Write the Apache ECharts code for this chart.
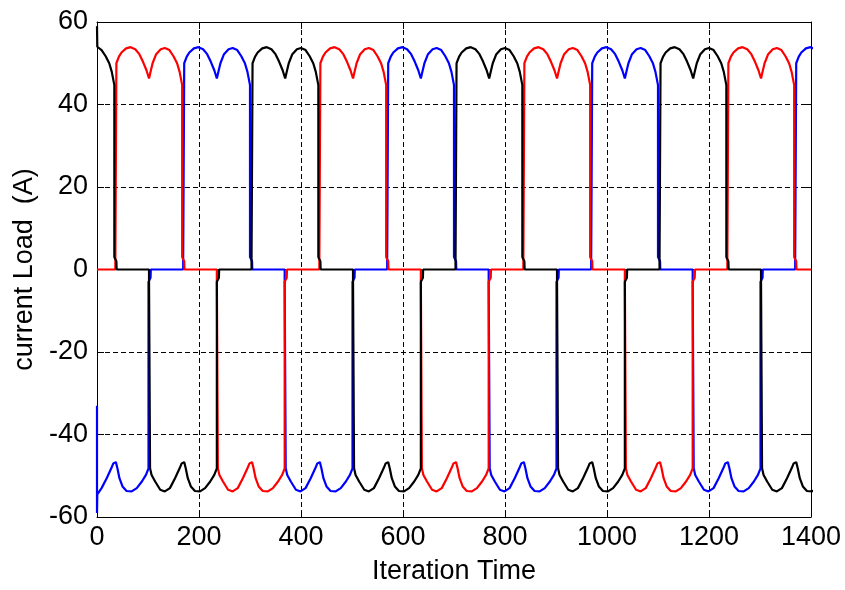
<!DOCTYPE html>
<html>
<head>
<meta charset="utf-8">
<script src="https://cdn.jsdelivr.net/npm/echarts@6/dist/echarts.min.js"></script>
<style>
html,body{margin:0;padding:0;background:#fff;}
#chart{width:845px;height:590px;}
</style>
</head>
<body>
<div id="chart"></div>
<script>
// ---- data ----
const xTicks = [0, 200, 400, 600, 800, 1000, 1200, 1400];
const yTicks = [-60, -40, -20, 0, 20, 40, 60];

// half-cycle waveform shapes (offset in iterations from switching edge, current in A)
const posOffsets = [-2, -2, 0, 0, 5, 10, 19, 28, 37, 45, 52, 59, 64, 66, 71, 78, 87, 95, 104, 112, 119, 124, 129, 129, 133, 133.5];
const posValues  = [0, 2.5, 2.5, 50, 51.6, 52.6, 53.6, 53.9, 53.4, 52.2, 50.4, 48.3, 46.3, 47.4, 50.0, 52.2, 53.4, 53.7, 53.2, 51.7, 50.0, 47.9, 44.7, 3, 2, 0];
const negOffsets = [-2, -2, 0, 0, 3, 10, 20, 29, 39, 49, 58, 62, 67, 70, 74, 80, 88, 98, 108, 118, 126, 131, 131, 135, 135.5];
const negValues  = [0, -2.5, -2.5, -48.2, -49.8, -51.4, -53.4, -53.8, -53.0, -50.6, -48.2, -47.0, -46.7, -48.2, -50.6, -52.6, -53.7, -53.8, -53.0, -51.4, -49.8, -48.2, -3, -2, 0];

// switching edges of each phase
const blackPosEdges = [-95, 305, 705, 1105];
const blackNegEdges = [104, 504, 904, 1304];
const redPosEdges   = [38, 438, 838, 1238];
const redNegEdges   = [237, 637, 1037];
const bluePosEdges  = [171, 571, 971, 1371];
const blueNegEdges  = [-30, 370, 770, 1170];

// initial transient points at iteration 0
const blackStart = [[0, 59], [0.6, 54]];
const redStart   = [[0, 0]];
const blueStart  = [[0, -33], [0, -59], [0.6, -54.5]];
const endPoint   = [[1400, 0]];

function buildPhase(start, posEdges, negEdges, tail) {
  const segs = [];
  posEdges.forEach(e => segs.push({e: e, off: posOffsets, val: posValues}));
  negEdges.forEach(e => segs.push({e: e, off: negOffsets, val: negValues}));
  segs.sort((a, b) => a.e - b.e);
  const t0 = start[start.length - 1][0];
  const pts = start.slice();
  segs.forEach(s => {
    s.off.forEach((o, i) => {
      const t = s.e + o;
      if (t > t0) pts.push([t, s.val[i]]);
    });
  });
  if (tail) tail.forEach(p => pts.push(p));
  return pts;
}

const blackData = buildPhase(blackStart, blackPosEdges, blackNegEdges, null);
const redData   = buildPhase(redStart, redPosEdges, redNegEdges, endPoint);
const blueData  = buildPhase(blueStart, bluePosEdges, blueNegEdges, null);

const font = 'Liberation Sans, Arial, Helvetica, sans-serif';
const fs = 27;
const chart = echarts.init(document.getElementById('chart'), null, {renderer: 'canvas'});

const axisCommon = {
  type: 'value',
  axisLine: {show: true, onZero: false, lineStyle: {color: '#000', width: 1}},
  axisTick: {show: true, inside: true, length: 7, lineStyle: {color: '#000', width: 1}},
  splitLine: {show: false},
  minorTick: {show: false}
};

chart.setOption({
  animation: false,
  backgroundColor: '#fff',
  grid: {left: 97, right: 34, top: 22, bottom: 71, show: false},
  xAxis: [
    Object.assign({}, axisCommon, {
      position: 'bottom', min: 0, max: 1400, interval: 200,
      name: 'Iteration Time', nameLocation: 'middle', nameGap: 41,
      nameTextStyle: {color: '#000', fontSize: fs, fontFamily: font},
      axisLabel: {color: '#000', fontSize: fs, fontFamily: font, margin: 7,
        formatter: v => xTicks.indexOf(v) >= 0 ? String(v) : ''},
      splitLine: {show: true, lineStyle: {color: '#000', width: 1, type: [5, 3]}}
    }),
    Object.assign({}, axisCommon, {
      position: 'top', min: 0, max: 1400, interval: 200,
      axisLabel: {show: false}
    })
  ],
  yAxis: [
    Object.assign({}, axisCommon, {
      position: 'left', min: -60, max: 60, interval: 20,
      name: 'current Load  (A)', nameLocation: 'middle', nameGap: 58,
      nameTextStyle: {color: '#000', fontSize: fs, fontFamily: font},
      axisLabel: {color: '#000', fontSize: fs, fontFamily: font, margin: 9,
        formatter: v => yTicks.indexOf(v) >= 0 ? String(v) : ''},
      splitLine: {show: true, lineStyle: {color: '#000', width: 1, type: [5, 3]}}
    }),
    Object.assign({}, axisCommon, {
      position: 'right', min: -60, max: 60, interval: 20,
      axisLabel: {show: false}
    })
  ],
  series: [
    {type: 'line', name: 'phase c', data: blueData, showSymbol: false, symbol: 'none',
      lineStyle: {color: '#0000ff', width: 2.2}, itemStyle: {color: '#0000ff'}, z: 2, clip: true},
    {type: 'line', name: 'phase b', data: redData, showSymbol: false, symbol: 'none',
      lineStyle: {color: '#ff0000', width: 2.2}, itemStyle: {color: '#ff0000'}, z: 3, clip: true},
    {type: 'line', name: 'phase a', data: blackData, showSymbol: false, symbol: 'none',
      lineStyle: {color: '#000000', width: 2.2}, itemStyle: {color: '#000000'}, z: 4, clip: true}
  ]
});
</script>
</body>
</html>
